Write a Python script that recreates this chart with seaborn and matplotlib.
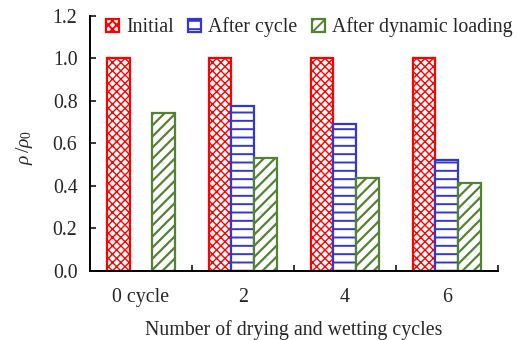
import numpy as np
import pandas as pd
import matplotlib
matplotlib.use("Agg")
import matplotlib.pyplot as plt
from matplotlib.patches import Patch
import seaborn as sns

# Data: relative density ratio per drying/wetting cycle count
categories = ["0 cycle", "2", "4", "6"]
series = ["Initial", "After cycle", "After dynamic loading"]
initial = [1.00, 1.00, 1.00, 1.00]
after_cycle = [np.nan, 0.776, 0.69, 0.52]
after_loading = [0.745, 0.53, 0.436, 0.415]
y_ticks = [0.0, 0.2, 0.4, 0.6, 0.8, 1.0, 1.2]

df = pd.DataFrame({
    "cycle": categories * 3,
    "series": [series[0]] * 4 + [series[1]] * 4 + [series[2]] * 4,
    "ratio": initial + after_cycle + after_loading,
})

sns.set_style("white")
plt.rcParams["font.family"] = ["Liberation Serif", "DejaVu Serif"]
plt.rcParams["mathtext.fontset"] = "custom"
plt.rcParams["mathtext.rm"] = "Liberation Serif"
plt.rcParams["mathtext.it"] = "Liberation Serif:italic"
plt.rcParams["hatch.linewidth"] = 1.4

FS = 14.3

fig = plt.figure(figsize=(5.19, 3.40), dpi=100)
ax = fig.add_axes([0.1734, 0.203, 0.786, 0.750])

styles = {
    "Initial": dict(edge="#ff0000", hatch="xxxx", hlw=1.0),
    "After cycle": dict(edge="#3535cf", hatch="--", hlw=1.4),
    "After dynamic loading": dict(edge="#548235", hatch="///", hlw=1.6),
}


def style_patch(p, st):
    p.set_facecolor("white")
    p.set_edgecolor(st["edge"])
    p.set_hatch(st["hatch"])
    p.set_linewidth(1.6)
    if hasattr(p, "set_hatch_linewidth"):
        p.set_hatch_linewidth(st["hlw"])


sns.barplot(data=df, x="cycle", y="ratio", hue="series", order=categories,
            hue_order=series, width=0.675, ax=ax, errorbar=None,
            legend=False)

for name, cont in zip(series, ax.containers):
    for bar in cont:
        style_patch(bar, styles[name])

ax.set_ylim(0, 1.2)
ax.set_xlim(-0.5, 3.5)
ax.set_yticks(y_ticks)
ax.set_yticklabels([f"{v:.1f}" for v in y_ticks])
ax.set_xticks(range(len(categories)))
ax.set_xticklabels(categories)
ax.set_xticks(np.arange(-0.5, len(categories), 1.0), minor=True)
ax.tick_params(axis="x", which="major", length=0, pad=12, labelsize=FS)
ax.tick_params(axis="x", which="minor", direction="in", length=4, width=1.3,
               bottom=True)
ax.tick_params(axis="y", direction="in", length=4, width=1.3, left=True,
               labelsize=FS, pad=9)

for side in ("top", "right"):
    ax.spines[side].set_visible(False)
for side in ("left", "bottom"):
    ax.spines[side].set_linewidth(1.4)
    ax.spines[side].set_color("black")

ax.set_xlabel("Number of drying and wetting cycles", fontsize=FS, labelpad=9.5)
ax.set_ylabel(r"$\it{\rho}\,/\it{\rho}_0$", fontsize=14)
ax.yaxis.set_label_coords(-0.135, 0.485)

handles = []
for s in series:
    h = Patch(facecolor="white", edgecolor=styles[s]["edge"],
              hatch=styles[s]["hatch"], linewidth=1.6)
    handles.append(h)
fig.legend(handles, series, loc="center", bbox_to_anchor=(0.596, 0.919),
           ncol=3, frameon=False, fontsize=FS, handlelength=0.65,
           handleheight=0.65, handletextpad=0.38, columnspacing=0.7,
           borderpad=0.0, borderaxespad=0.0)

fig.savefig("out.png", dpi=100)
